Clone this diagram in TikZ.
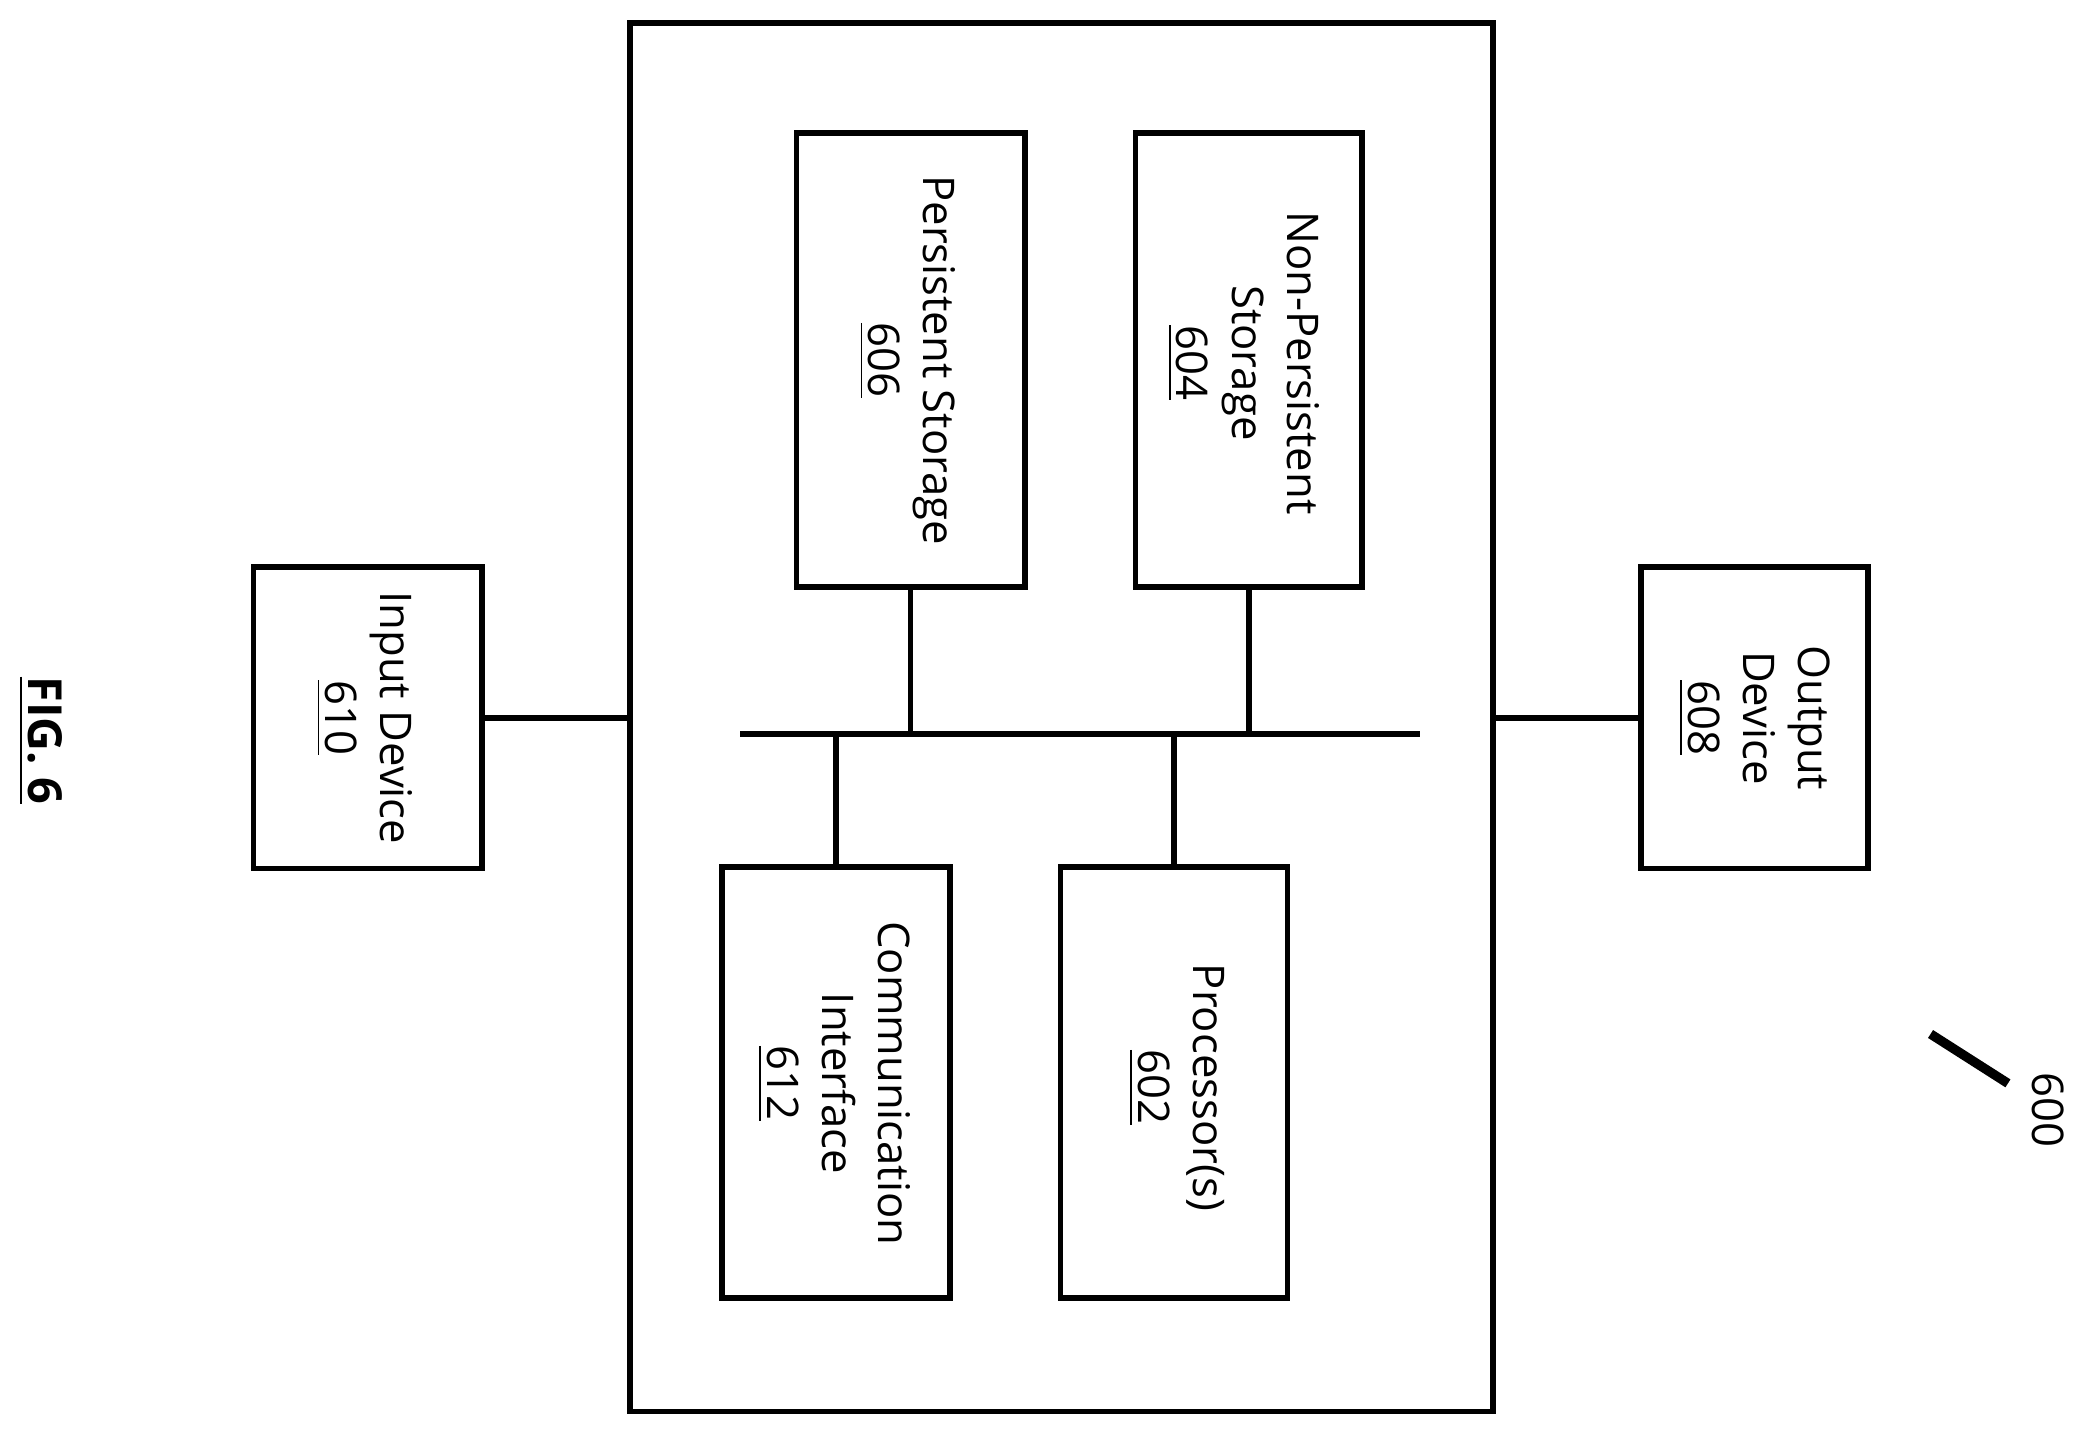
\documentclass[tikz,border=0pt]{standalone}
\usepackage{fontspec}
\setmainfont{Open Sans}
\begin{document}
\begin{tikzpicture}[x=0.01cm,y=-0.01cm,
 box/.style={draw,line width=1.2pt,inner sep=0},
 ln/.style={line width=1.2pt},
 lbl/.style={rotate=-90,align=center,font=\fontsize{9.3}{11.8}\selectfont}]
\useasboundingbox (0,0) rectangle (1568,1075);
\draw[line width=1.2pt] (472,17) rectangle (1119,1058);
\node[box,minimum width=1.71cm,minimum height=3.40cm] (ps) at (682.5,270) {};
\node[lbl] at (680,270) {Persistent Storage\\\underline{606}};
\node[box,minimum width=1.70cm,minimum height=3.40cm] (nps) at (936,270) {};
\node[lbl] at (932,272) {Non-Persistent\\Storage\\\underline{604}};
\node[box,minimum width=1.71cm,minimum height=3.23cm] (ci) at (626.5,811.5) {};
\node[lbl] at (625,812) {Communication\\Interface\\\underline{612}};
\node[box,minimum width=1.70cm,minimum height=3.23cm] (pr) at (880,811.5) {};
\node[lbl] at (882,815) {Processor(s)\\\underline{602}};
\node[box,minimum width=1.71cm,minimum height=2.26cm] (in) at (275.5,538) {};
\node[lbl] at (273,538) {Input Device\\\underline{610}};
\node[box,minimum width=1.70cm,minimum height=2.26cm] (out) at (1315,538) {};
\node[lbl] at (1315,538) {Output\\Device\\\underline{608}};
\coordinate (bl) at (555,550); \coordinate (br) at (1064,550);
\draw[ln] (bl) -- (br);
\draw[ln] (ps.south) -- (ps.south |- bl);
\draw[ln] (nps.south) -- (nps.south |- bl);
\draw[ln] (ci.north) -- (ci.north |- bl);
\draw[ln] (pr.north) -- (pr.north |- bl);
\draw[ln] (in.east) -- (472,538);
\draw[ln] (out.west) -- (1119,538);
\node[rotate=-90,font=\fontsize{10}{12}\selectfont\bfseries] (fig) at (30,555) {\underline{FIG. 6}};
\node[rotate=-90,font=\fontsize{9.3}{11}\selectfont] (n600) at (1535,832) {600};
\coordinate (a) at (1447,775);
\draw[line width=2pt] (a) -- (1505,812);
\end{tikzpicture}
\end{document}
